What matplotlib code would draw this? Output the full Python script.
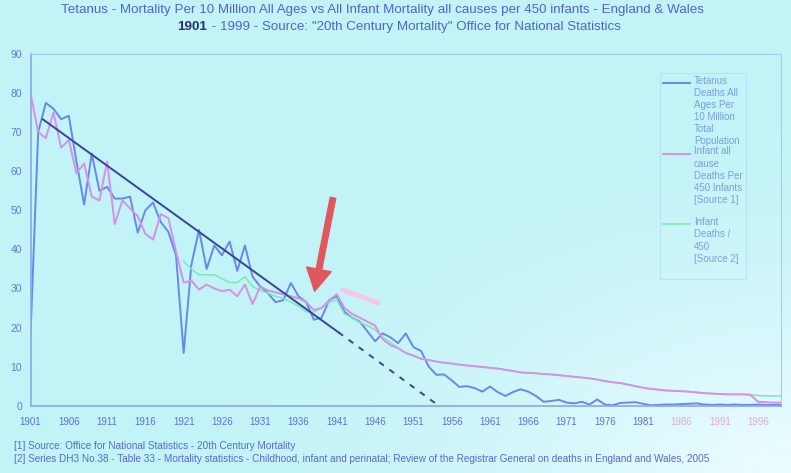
import numpy as np
import matplotlib.pyplot as plt
from matplotlib.legend_handler import HandlerLine2D

# Datos (1901 - 1999)
years = np.arange(1901, 2000)

tetanus = [
    18, 70, 77.5, 76, 73.3, 74.2, 62.5, 51.5, 64.5, 55,      # 1901-1910
    56, 53, 53, 53.5, 44.3, 50, 52, 47, 44.5, 38.5,          # 1911-1920
    13.5, 36, 45, 35, 41, 38.5, 42, 34.5, 41, 33,            # 1921-1930
    30.5, 28.8, 26.5, 27, 31.4, 28, 26.5, 22, 22.5, 27,      # 1931-1940
    28, 24, 22.5, 21.5, 19, 16.5, 18.5, 17.5, 16, 18.5,      # 1941-1950
    15, 14, 10, 7.9, 8, 6.5, 4.8, 5, 4.5, 3.6,               # 1951-1960
    4.9, 3.5, 2.5, 3.5, 4.2, 3.6, 2.5, 1.0, 1.2, 1.5,        # 1961-1970
    0.8, 0.6, 1.0, 0.3, 1.6, 0.3, 0.1, 0.7, 0.8, 0.9,        # 1971-1980
    0.5, 0.1, 0.2, 0.3, 0.3, 0.4, 0.5, 0.6, 0.3, 0.2,        # 1981-1990
    0.3, 0.2, 0.3, 0.2, 0.2, 0.3, 0.2, 0.2, 0.2]             # 1991-1999

infant_src1 = [
    80, 70, 68.5, 75, 66, 68, 59.5, 62, 53.5, 52.5,          # 1901-1910
    62.5, 46.5, 52.5, 50.5, 48.5, 44, 42.5, 49, 48, 39.5,    # 1911-1920
    31.5, 32, 29.7, 31, 30, 29.3, 29.7, 28, 31, 26,          # 1921-1930
    30.5, 29.5, 29, 28.5, 28, 27.5, 26.5, 24.5, 25, 27,      # 1931-1940
    28.5, 25, 23.5, 22.5, 21.5, 20.5, 17, 15.5, 14.7, 13.5,  # 1941-1950
    12.8, 12, 11.7, 11.3, 11, 10.8, 10.5, 10.3, 10.1, 9.9,   # 1951-1960
    9.7, 9.5, 9.2, 8.9, 8.5, 8.4, 8.3, 8.1, 8.0, 7.8,        # 1961-1970
    7.6, 7.4, 7.2, 7.0, 6.7, 6.3, 6.0, 5.8, 5.4, 5.0,        # 1971-1980
    4.6, 4.3, 4.1, 3.9, 3.8, 3.7, 3.6, 3.4, 3.2, 3.1,        # 1981-1990
    3.0, 2.9, 2.9, 2.9, 2.8, 1.0, 0.9, 0.8, 0.8]             # 1991-1999

src2_years = np.arange(1921, 2000)
infant_src2 = [
    37, 35, 33.5, 33.5, 33.5, 32.5, 31.5, 31.5, 33, 30.5,    # 1921-1930
    29.5, 28.8, 28, 27.5, 26.5, 25.5, 24, 24, 25, 26.5,      # 1931-1940
    27, 23.5, 22.5, 21.3, 20.5, 19.4, 17.5, 16.2, 14.7, 13.5,  # 1941-1950
    12.8, 12, 11.7, 11.3, 11, 10.8, 10.5, 10.3, 10.1, 9.9,   # 1951-1960
    9.7, 9.5, 9.2, 8.9, 8.5, 8.4, 8.3, 8.1, 8.0, 7.8,        # 1961-1970
    7.6, 7.4, 7.2, 7.0, 6.7, 6.3, 6.0, 5.8, 5.4, 5.0,        # 1971-1980
    4.6, 4.3, 4.1, 3.9, 3.8, 3.7, 3.6, 3.4, 3.2, 3.1,        # 1981-1990
    3.0, 2.9, 2.9, 2.9, 2.8, 2.6, 2.5, 2.5, 2.5]             # 1991-1999

# linea de tendencia (tramo solido y tramo punteado)
trend_years = [1902.6, 1941.2, 1954.3]
trend_values = [73.3, 18.8, 0]

# flecha roja y trazo rosa
arrow_from = (1940.5, 53.2)
arrow_to = (1938.1, 29.3)
mark_x = [1941.8, 1946.4]
mark_y = [29.6, 26.3]

xtick_years = list(range(1901, 2000, 5))
yticks = list(range(0, 100, 10))

title1 = ("Tetanus - Mortality Per 10 Million All Ages vs All Infant Mortality "
          "all causes per 450 infants - England & Wales")
title2_bold = "1901"
title2_rest = ' - 1999 - Source: "20th Century Mortality" Office for National Statistics'
note1 = "[1] Source: Office for National Statistics - 20th Century Mortality"
note2 = ("[2] Series DH3 No.38 - Table 33 - Mortality statistics - Childhood, infant and "
         "perinatal; Review of the Registrar General on deaths in England and Wales, 2005")

lab_tet = "Tetanus\nDeaths All\nAges Per\n10 Million\nTotal\nPopulation"
lab_src1 = "Infant all\ncause\nDeaths Per\n450 Infants\n[Source 1]"
lab_src2 = " \nInfant\nDeaths /\n450\n[Source 2]\n "

plt.rcParams['font.family'] = ['Liberation Sans', 'DejaVu Sans']

W, H = 791, 473
fig = plt.figure(figsize=(W / 100, H / 100), dpi=100)

# fondo celeste con zona mas clara abajo a la derecha
bg = fig.add_axes([0, 0, 1, 1], zorder=-10)
gx, gy = np.meshgrid(np.linspace(0, 1, 200), np.linspace(0, 1, 120))
d = np.clip(1 - np.hypot(1 - gx, 1 - gy) / 0.8, 0, 1) ** 1.6
base = np.array([0.76, 0.955, 0.97])
light = np.array([0.93, 0.99, 1.0])
bg.imshow(base + (light - base) * d[..., None], aspect='auto', extent=[0, 1, 0, 1])
bg.axis('off')

ax = fig.add_axes([30.5 / W, 1 - 405.7 / H, 750.5 / W, 351.7 / H])
ax.set_facecolor('none')

l_tet, = ax.plot(years, tetanus, color='#6a88ec', lw=1.4, label=lab_tet)
l_src2, = ax.plot(src2_years, infant_src2, color='#78eab4', lw=1.1, label=lab_src2)
l_src1, = ax.plot(years, infant_src1, color='#d690e6', lw=1.4, label=lab_src1)

ax.plot(trend_years[:2], trend_values[:2], color='#3d4399', lw=1.4)
ax.plot(trend_years[1:], trend_values[1:], color='#3d4399', lw=1.4, ls=(0, (3, 3.5)))

ax.plot(mark_x, mark_y, color='#f6c6e6', lw=3.5, solid_capstyle='round')
ax.annotate('', xy=arrow_to, xytext=arrow_from,
            arrowprops=dict(arrowstyle='simple,head_length=0.8,head_width=0.9,tail_width=0.2',
                            color='#e0585e', shrinkA=0, shrinkB=0, mutation_scale=20))

ax.set_xlim(1901, 1999)
ax.set_ylim(0, 90)
ax.set_xticks(xtick_years)
ax.set_yticks(yticks)
ax.tick_params(length=0)
ax.tick_params(axis='x', labelsize=7, colors='#5f70d8', pad=8)
ax.tick_params(axis='y', labelsize=7.5, colors='#6878d8', pad=6)
for t in ax.get_xticklabels()[-3:]:
    t.set_color('#e2a6ea')
for s in ['left', 'bottom']:
    ax.spines[s].set_color('#8aa6ee')
    ax.spines[s].set_linewidth(1.2)
for s in ['top', 'right']:
    ax.spines[s].set_color('#a9caf2')
    ax.spines[s].set_linewidth(0.8)


# manejador para que la linea de la leyenda quede en la primera linea del texto
class TopLine(HandlerLine2D):
    def __init__(self, shift, **kw):
        super().__init__(**kw)
        self.shift = shift

    def create_artists(self, legend, orig_handle, xdescent, ydescent,
                       width, height, fontsize, trans):
        arts = super().create_artists(legend, orig_handle, xdescent, ydescent,
                                      width, height, fontsize, trans)
        for a in arts:
            a.set_ydata(np.asarray(a.get_ydata()) + self.shift)
        return arts


fs = 7.0
lsp = 1.27
step = lsp * 0.92 * fs
leg = ax.legend([l_tet, l_src1, l_src2], [lab_tet, lab_src1, lab_src2],
                loc='upper left', bbox_to_anchor=(660 / W, 1 - 72.7 / H),
                bbox_transform=fig.transFigure, fontsize=fs, labelcolor='#809ce6',
                frameon=True, fancybox=False, edgecolor='#aee2ee', facecolor='none',
                borderpad=0.3, borderaxespad=0, labelspacing=0.0,
                handlelength=2.8, handletextpad=0.4,
                handler_map={l_tet: TopLine(2.5 * step),
                             l_src1: TopLine(2.0 * step),
                             l_src2: TopLine(1.5 * step)})
for t in leg.get_texts():
    t.set_linespacing(lsp)
leg.get_frame().set_linewidth(0.8)

# titulos y notas
tfs = 9.6
fig.text(382 / W, 1 - 10 / H, title1, ha='center', va='center', fontsize=tfs, color='#5563cc')
r = fig.canvas.get_renderer()
tb = fig.text(0, 1 - 27 / H, title2_bold, va='center', fontsize=tfs,
              fontweight='bold', color='#26307a')
tr = fig.text(0, 1 - 27 / H, title2_rest, va='center', fontsize=tfs, color='#5563cc')
wb = tb.get_window_extent(r).width
wr = tr.get_window_extent(r).width
x0 = 399 - (wb + wr) / 2
tb.set_x(x0 / W)
tr.set_x((x0 + wb) / W)

fig.text(14 / W, 1 - 446 / H, note1, va='center', fontsize=7.2, color='#5a6ad0')
fig.text(14 / W, 1 - 459 / H, note2, va='center', fontsize=7.2, color='#5a6ad0')

fig.savefig('out.png', dpi=100)
